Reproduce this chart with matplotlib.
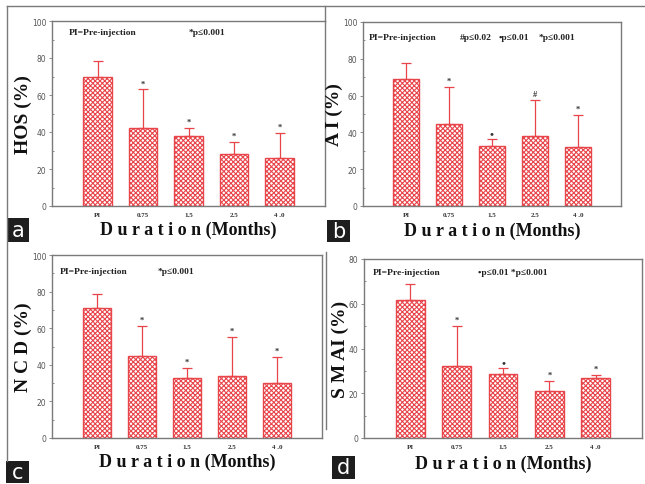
import matplotlib
matplotlib.use("Agg")
import matplotlib.pyplot as plt
from matplotlib.lines import Line2D
from matplotlib.patches import Rectangle

W, H = 645, 485
RED = "#e8454b"
GRAY = "#7a7a7a"

categories = ["PI", "0.75", "1.5", "2.5", "4 .0"]

hos_mean = [70.0, 42.0, 37.8, 28.2, 25.9]
hos_err = [8.5, 21.0, 4.2, 6.2, 13.5]
hos_marks = ["", "*", "*", "*", "*"]

ai_mean = [69.1, 44.5, 32.5, 38.2, 32.2]
ai_err = [8.4, 20.4, 4.0, 19.4, 17.3]
ai_marks = ["", "*", "•", "#", "*"]

ncd_mean = [71.0, 44.7, 33.0, 33.9, 29.9]
ncd_err = [7.5, 16.4, 5.3, 21.4, 14.3]
ncd_marks = ["", "*", "*", "*", "*"]

smai_mean = [61.8, 32.3, 28.6, 21.0, 26.8]
smai_err = [6.9, 17.6, 2.7, 4.6, 1.4]
smai_marks = ["", "*", "•", "*", "*"]

plt.rcParams["hatch.color"] = RED
plt.rcParams["hatch.linewidth"] = 0.8

fig = plt.figure(figsize=(W / 100, H / 100), dpi=100)


def px_axes(l, r, t, b):
    return fig.add_axes([l / W, 1 - b / H, (r - l) / W, (b - t) / H])


def fig_line(xs, ys, color=GRAY, lw=1.0):
    fig.add_artist(Line2D([x / W for x in xs], [1 - y / H for y in ys],
                          color=color, lw=lw, transform=fig.transFigure))


def label_box(l, t, r, b, s):
    fig.add_artist(Rectangle((l / W, 1 - b / H), (r - l) / W, (b - t) / H,
                             facecolor="#1e1e1e", edgecolor="none",
                             transform=fig.transFigure))
    fig.text((l + r) / 2 / W, 1 - (t + b) / 2 / H, s, color="white",
             fontsize=15, ha="center", va="center", family="DejaVu Sans")


def panel(box, means, errs, marks, ylabel, ymax, notes, xl_y):
    ax = px_axes(*box)
    x = list(range(len(categories)))
    ax.bar(x, means, width=0.62, color="white", edgecolor=RED,
           hatch="xxxxxxx", linewidth=1.0, zorder=2)
    ax.errorbar(x, means, yerr=[[0] * len(errs), errs], fmt="none",
                ecolor=RED, elinewidth=0.9, capsize=3.5, capthick=0.9,
                zorder=3)
    for xi, m, e, mk in zip(x, means, errs, marks):
        if mk:
            fs = 8 if mk == "•" else 6
            ax.annotate(mk, (xi, m + e), xytext=(0, 0.5 if mk == "•" else 1.5),
                        textcoords="offset points", ha="center",
                        va="bottom", fontsize=fs, color="#333333",
                        family=["Liberation Serif", "DejaVu Sans"],
                        fontweight="bold")
    ax.set_xlim(-1, 5)
    ax.set_ylim(0, ymax)
    ax.set_xticks(x)
    ax.set_xticklabels(categories, family="Liberation Serif",
                       fontweight="bold", fontsize=5, color="#333333")
    ax.set_yticks(range(0, ymax + 1, 20))
    ax.set_yticks(range(10, ymax, 20), minor=True)
    ax.tick_params(axis="y", which="major", direction="out", length=2.5,
                   width=0.6, color=GRAY, labelsize=5.5, labelcolor="#555555",
                   pad=1.5)
    ax.tick_params(axis="y", which="minor", direction="in", length=1.5,
                   width=0.6, color=GRAY)
    ax.tick_params(axis="x", length=0, pad=4)
    for s in ax.spines.values():
        s.set_color(GRAY)
        s.set_linewidth(1.0)
    ax.set_ylabel(ylabel, family="Liberation Serif", fontweight="bold",
                  fontsize=14, labelpad=0, color="#111111")
    for xf, yf, txt in notes:
        ax.text(xf, yf, txt, transform=ax.transAxes, ha="left",
                va="center", family=["Liberation Serif", "DejaVu Sans"],
                fontweight="bold", fontsize=6.8, color="#222222")
    l, r = box[0], box[1]
    fig.text((l + r) / 2 / W, 1 - xl_y / H, "D u r a t i o n (Months)",
             ha="center", va="center", family="Liberation Serif",
             fontweight="bold", fontsize=13, color="#111111")
    return ax


# outer frame lines
fig_line([7, 645], [7, 7])
fig_line([7, 7], [7, 462])
fig_line([325, 325], [7, 22])
fig_line([326, 326], [253, 430])

panel((52, 325, 22, 207), hos_mean, hos_err, hos_marks, "HOS (%)", 100,
      [(0.06, 0.94, "PI=Pre-injection"), (0.50, 0.94, "*p≤0.001")], 230)
panel((363, 621, 23, 207), ai_mean, ai_err, ai_marks, "A I (%)", 100,
      [(0.023, 0.92, "PI=Pre-injection"), (0.376, 0.92, "#p≤0.02"),
       (0.527, 0.92, "•p≤0.01"), (0.68, 0.92, "*p≤0.001")], 231)
panel((52, 322, 256, 439), ncd_mean, ncd_err, ncd_marks, "N C D (%)", 100,
      [(0.03, 0.91, "PI=Pre-injection"), (0.39, 0.91, "*p≤0.001")], 462)
panel((364, 642, 260, 439), smai_mean, smai_err, smai_marks, "S M AI (%)", 80,
      [(0.03, 0.93, "PI=Pre-injection"), (0.41, 0.93, "•p≤0.01 *p≤0.001")],
      464)

label_box(7, 219, 29, 243, "a")
label_box(327, 221, 350, 243, "b")
label_box(6, 462, 29, 484, "c")
label_box(332, 457, 355, 480, "d")

fig.savefig("out.png", dpi=100)
